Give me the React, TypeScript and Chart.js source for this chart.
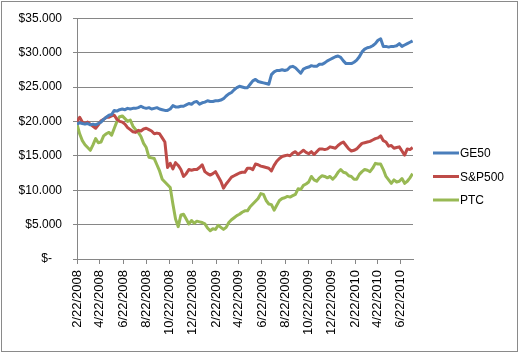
import React, { useEffect, useRef } from "react";
import { Chart, registerables } from "chart.js";

Chart.register(...registerables);

// Weekly observations starting 2/22/2008 (x = days since start)
const startLabel = "2/22/2008";
const weekCount = 127;

const ge50 = [
  19.6, 19.8, 19.7, 19.6, 19.7, 19.5, 19.6, 19.5, 19.7, 19.9,
  20.3, 20.6, 20.9, 21.0, 21.6, 21.5, 21.7, 21.8, 21.7, 21.9,
  21.8, 21.9, 21.9, 22.0, 22.2, 22.0, 21.9, 22.0, 21.8, 21.9,
  22.0, 21.8, 21.7, 21.6, 21.6, 21.8, 22.3, 22.1, 22.1, 22.2,
  22.2, 22.4, 22.6, 22.5, 22.8, 22.9, 22.5, 22.7, 22.8, 23.0,
  22.9, 22.9, 23.0, 23.0, 23.1, 23.3, 23.7, 24.0, 24.2, 24.6,
  24.9, 25.1, 25.0, 24.9, 24.9, 25.4, 25.9, 26.1, 25.8, 25.7,
  25.6, 25.5, 25.4, 26.8, 27.2, 27.4, 27.4, 27.5, 27.4, 27.5,
  27.9, 28.0, 27.8, 27.4, 27.0, 27.6, 27.8, 27.9, 28.1, 28.0,
  28.0, 28.3, 28.3, 28.5, 28.8, 29.0, 29.2, 29.4, 29.5, 29.3,
  28.8, 28.4, 28.4, 28.4, 28.6, 28.9, 29.4, 30.1, 30.5, 30.7,
  30.8, 31.0, 31.3, 31.8, 32.0, 30.9, 30.9, 30.8, 30.9, 30.9,
  31.0, 31.3, 30.9, 31.1, 31.3, 31.5, 31.7,
];

const sp500 = [
  20.0, 20.6, 19.9, 19.7, 19.9, 19.6, 19.3, 19.0, 19.5, 20.1,
  20.3, 20.6, 20.6, 20.8, 20.9, 20.3, 20.0, 19.9, 19.6, 19.1,
  18.8, 18.5, 18.4, 18.7, 18.6, 18.9, 19.0, 18.8, 18.6, 18.2,
  18.3, 18.2, 17.6, 17.0, 13.3, 13.9, 13.1, 14.0, 13.6, 13.0,
  12.0, 12.4, 13.0, 12.9, 13.0, 13.0, 13.3, 13.7, 12.7, 12.4,
  12.2, 12.4, 12.7, 12.0, 11.3, 10.3, 10.9, 11.4, 11.9, 12.1,
  12.3, 12.5, 12.6, 12.6, 13.2, 13.2, 13.0, 13.8, 13.7, 13.5,
  13.4, 13.3, 13.2, 12.8, 13.6, 14.2, 14.6, 14.9, 15.0, 15.1,
  15.0, 15.4, 15.6, 15.2, 15.5, 15.8, 15.5, 15.3, 15.6, 15.2,
  15.6, 16.0, 16.0, 15.9, 16.0, 16.3, 16.2, 16.1, 16.5, 16.8,
  17.0, 16.5, 16.0, 15.7, 15.8, 16.0, 16.4, 16.8, 16.9, 17.0,
  17.1, 17.3, 17.5, 17.6, 17.9, 17.2, 17.0, 16.4, 16.5, 16.1,
  16.2, 16.3, 15.7, 15.1, 16.0, 15.9, 16.2,
];

const ptc = [
  19.6, 18.2, 17.2, 16.6, 16.2, 15.8, 16.6, 17.5, 16.9, 17.0,
  17.9, 18.2, 18.4, 18.0, 19.0, 20.0, 20.7, 20.8, 20.4, 20.0,
  20.2, 19.3, 18.8, 18.4, 17.8, 16.8, 16.2, 14.8, 14.7, 14.6,
  13.7, 12.8, 11.6, 11.2, 10.8, 10.4, 8.0, 5.8, 4.7, 6.4,
  6.5, 5.8, 5.1, 5.6, 5.2, 5.5, 5.4, 5.3, 5.1, 4.5,
  4.1, 4.4, 4.3, 4.9, 4.6, 4.3, 4.6, 5.3, 5.7, 6.0,
  6.3, 6.5, 6.8, 7.0, 7.0, 7.6, 8.0, 8.4, 8.8, 9.5,
  9.4, 8.5, 8.0, 7.9, 7.1, 7.8, 8.5, 8.8, 8.9, 9.1,
  9.0, 9.2, 9.4, 10.2, 10.1, 10.7, 10.9, 11.2, 12.0, 11.5,
  11.3, 11.8, 12.1, 12.0, 11.8, 12.0, 11.6, 12.0, 12.6, 13.0,
  12.6, 12.5, 12.1, 12.0, 11.6, 11.6, 12.3, 12.7, 13.0, 12.9,
  12.7, 13.2, 13.9, 13.8, 13.8, 13.0, 12.0, 11.5, 11.0, 11.5,
  11.2, 11.3, 11.7, 11.0, 11.3, 11.8, 12.4,
];

const tickLabels = [
  "2/22/2008", "4/22/2008", "6/22/2008", "8/22/2008", "10/22/2008", "12/22/2008",
  "2/22/2009", "4/22/2009", "6/22/2009", "8/22/2009", "10/22/2009", "12/22/2009",
  "2/22/2010", "4/22/2010", "6/22/2010",
];
const tickDays = [0, 60, 121, 182, 243, 304, 366, 425, 486, 547, 608, 669, 731, 790, 851];
const lastDay = 883;

const seriesNames = ["GE50", "S&P500", "PTC"];
const seriesColors = ["#4A7EBB", "#BE4B48", "#98B954"];
const seriesValues = [ge50, sp500, ptc];

const FONT = "'Liberation Sans', Arial, sans-serif";
const GRID = "#868686";

function fmtMoney(v: number): string {
  if (v === 0) return "$-   ";
  const s = Math.round(v).toString();
  return "$" + s.replace(/\B(?=(\d{3})+(?!\d))/g, ".");
}

const legendPlugin = {
  id: "customLegend",
  afterDraw(chart: any) {
    const ctx = chart.ctx;
    const area = chart.chartArea;
    const cy = chart.height / 2;
    const gap = 23.5;
    const x0 = area.right + 20;
    ctx.save();
    ctx.font = "12px " + FONT;
    ctx.textBaseline = "middle";
    ctx.textAlign = "left";
    chart.data.datasets.forEach((ds: any, i: number) => {
      const y = cy + (i - 1) * gap;
      ctx.strokeStyle = ds.borderColor;
      ctx.lineWidth = 3;
      ctx.beginPath();
      ctx.moveTo(x0, y);
      ctx.lineTo(x0 + 26, y);
      ctx.stroke();
      ctx.fillStyle = "#000";
      ctx.fillText(ds.label, x0 + 27, y + 1);
    });
    // chart border
    ctx.strokeStyle = "#8a8a8a";
    ctx.lineWidth = 1;
    ctx.strokeRect(1.5, 1.5, 516, 350);
    ctx.restore();
  },
};

export default function App() {
  const ref = useRef<HTMLCanvasElement | null>(null);

  useEffect(() => {
    document.body.style.margin = "0";
    const canvas = ref.current;
    if (!canvas) return;
    const datasets = seriesNames.map((name, s) => ({
      label: name,
      data: seriesValues[s].slice(0, weekCount).map((v, i) => ({ x: i * 7, y: v * 1000 })),
      borderColor: seriesColors[s],
      backgroundColor: seriesColors[s],
      borderWidth: 3,
      pointRadius: 0,
      tension: 0,
      borderJoinStyle: "round" as const,
    }));
    const chart = new Chart(canvas, {
      type: "line",
      data: { datasets },
      plugins: [legendPlugin],
      options: {
        responsive: false,
        animation: false,
        devicePixelRatio: 1,
        layout: { padding: { left: 0, top: 15, right: 107, bottom: 0 } },
        plugins: { legend: { display: false }, tooltip: { enabled: false } },
        scales: {
          x: {
            type: "linear",
            min: 0,
            max: lastDay,
            afterBuildTicks: (scale: any) => {
              scale.ticks = tickDays.map((d) => ({ value: d }));
            },
            afterFit: (scale: any) => {
              scale.height = 94;
            },
            grid: {
              drawOnChartArea: false,
              drawTicks: true,
              tickLength: 5,
              color: GRID,
            },
            border: { color: GRID, width: 1 },
            ticks: {
              autoSkip: false,
              minRotation: 90,
              maxRotation: 90,
              padding: 6,
              color: "#000",
              font: { family: FONT, size: 13 },
              callback: (v: any) => {
                const idx = tickDays.indexOf(Number(v));
                return idx >= 0 ? tickLabels[idx] : "";
              },
            },
          },
          y: {
            min: 0,
            max: 35000,
            afterFit: (scale: any) => {
              scale.width = 77;
            },
            grid: { color: GRID, tickLength: 4, drawTicks: true },
            border: { color: GRID, width: 1 },
            ticks: {
              stepSize: 5000,
              padding: 11,
              color: "#000",
              font: { family: FONT, size: 12 },
              callback: (v: any) => fmtMoney(Number(v)),
            },
          },
        },
      },
    });
    return () => chart.destroy();
  }, []);

  return <canvas ref={ref} width={520} height={353} style={{ display: "block" }} />;
}
